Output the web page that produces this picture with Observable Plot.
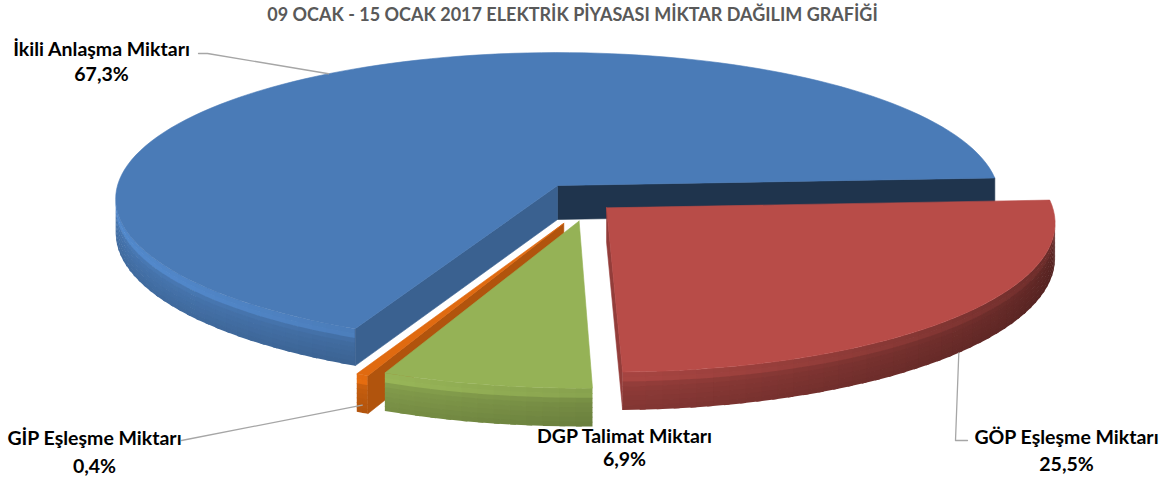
<!DOCTYPE html>
<html><head><meta charset="utf-8">
<script src="https://cdn.jsdelivr.net/npm/d3@7"></script>
<script src="https://cdn.jsdelivr.net/npm/@observablehq/plot@0.6"></script>
<style>body{margin:0;background:#fff} svg{display:block}</style>
</head><body><div id="chart"></div>
<script>
// ---------- data ----------
const title = "09 OCAK - 15 OCAK 2017 ELEKTRİK PİYASASI MİKTAR DAĞILIM GRAFİĞİ";
const categories = ["GÖP Eşleşme Miktarı", "DGP Talimat Miktarı", "GİP Eşleşme Miktarı", "İkili Anlaşma Miktarı"];
const values = [25.5, 6.9, 0.4, 67.3];
const colors = ["#b84c48", "#95b256", "#e06a10", "#4a7bb7"];

// ---------- style / layout ----------
const explode = [[0.11, 0.152], [0.048, 0.24], [0.014, 0.255], [0, 0]];
const startAngle = 3;
const D = 11, CX = 557, CY = 185, KX = 440, KY = 145, TH = 34;
const W = 1169, H = 479;
const labelPos = [ // name centre x, name y, pct y
  {x: 1066, y1: 437, y2: 464},
  {x: 624, y1: 436, y2: 459},
  {x: 94, y1: 438, y2: 466},
  {x: 101, y1: 49, y2: 74}
];
const leaderEnds = [
  {pre: [], post: [[955, 440], [967, 440]], r: 1, h: 1.0},
  null,
  {pre: [[181, 440]], post: [], r: 1, h: 0.8},
  {pre: [[198, 53], [207, 53]], post: [], r: 1, h: 0}
];

// ---------- geometry ----------
const rad = Math.PI / 180;
function proj(X, Z, h) { const s = D / (D - Z); return [CX + KX * X * s, CY + (KY * Z + TH * h) * s]; }
function wpt(sl, a, r, h) { return proj(sl.ox + r * Math.cos(a * rad), sl.oz - r * Math.sin(a * rad), h); }
function shade(c, f) { const r = d3.rgb(c); return d3.rgb(Math.min(255, r.r * f), Math.min(255, r.g * f), Math.min(255, r.b * f)).formatHex(); }

const total = d3.sum(values);
let cur = startAngle;
const slices = categories.map((name, i) => {
  const span = values[i] / total * 360;
  const a1 = cur, a0 = cur - span; cur = a0;
  return {i, name, value: values[i], a0, a1, color: colors[i], ox: explode[i][0], oz: explode[i][1]};
});
const depthOf = s => s.oz - 0.5 * Math.sin((s.a0 + s.a1) / 2 * rad);
const order = slices.slice().sort((a, b) => depthOf(a) - depthOf(b));

const rows = []; let fid = 0;
function area(p) { let s = 0; for (let k = 0; k < p.length; k++) { const q = p[(k + 1) % p.length]; s += p[k][0] * q[1] - q[0] * p[k][1]; } return s / 2; }
function push(pts, color, cull, stroke) {
  if (cull && area(pts) <= 0.01) return;
  const id = fid++;
  const sc = stroke === undefined ? color : stroke;
  pts.concat([pts[0]]).forEach(([x, y]) => rows.push({id, x, y, color, sc}));
}
const shadowRows = []; let sid = 0;
const NB = 8;
const bandH = d3.range(NB + 1).map(k => k / NB);
const profile = h => 1 + 0.16 * Math.exp(-Math.pow((h - 0.14) / 0.12, 2)) - 0.14 * h;

for (const sl of order) {
  const c = sl.color;
  const n = Math.max(2, Math.ceil((sl.a1 - sl.a0) / 2));
  const step = (sl.a1 - sl.a0) / n;
  const angs = d3.range(n + 1).map(k => sl.a0 + step * k);
  const sp = [wpt(sl, 0, 0, 1.25)].concat(angs.map(a => wpt(sl, a, 1.03, 1.25)));
  const id = sid++; sp.concat([sp[0]]).forEach(([x, y]) => shadowRows.push({id, x, y}));
  const ctop = wpt(sl, 0, 0, 0), cbot = wpt(sl, 0, 0, 1);
  const radialF = nDeg => 0.8 - 0.38 * Math.pow(Math.max(0, -Math.sin(nDeg * rad)), 4);
  push([ctop, wpt(sl, sl.a0, 1, 0), wpt(sl, sl.a0, 1, 1), cbot], shade(c, radialF(sl.a0 - 90)), true);
  const segs = [];
  for (let k = 0; k < n; k++) {
    const a = angs[k], b = k < n - 1 ? angs[k + 1] + step * 0.35 : angs[k + 1], m = (angs[k] + angs[k + 1]) / 2;
    const f = 0.74 + 0.26 * Math.cos((m - 200) * rad);
    for (let j = 0; j < NB; j++) {
      const h0 = bandH[j], h1 = Math.min(1, bandH[j + 1] + 0.02);
      const col = shade(c, f * profile((bandH[j] + bandH[j + 1]) / 2));
      segs.push({m, pts: [wpt(sl, a, 1, h0), wpt(sl, b, 1, h0), wpt(sl, b, 1, h1), wpt(sl, a, 1, h1)], col});
    }
  }
  segs.sort((p, q) => Math.sin(q.m * rad) - Math.sin(p.m * rad));
  segs.forEach(s => push(s.pts, s.col, true, "none"));
  push([wpt(sl, sl.a1, 1, 0), ctop, cbot, wpt(sl, sl.a1, 1, 1)], shade(c, radialF(sl.a1 + 90)), true);
  push([ctop].concat(angs.map(a => wpt(sl, a, 1, 0))), c, false);
}

const fmt = v => d3.format(".1f")(v).replace(".", ",") + "%";
const labelRows = [];
const leaderRows = [];
slices.forEach((sl, i) => {
  const lp = labelPos[i];
  labelRows.push({x: lp.x, y: lp.y1, text: sl.name});
  labelRows.push({x: lp.x, y: lp.y2, text: fmt(sl.value)});
  const le = leaderEnds[i];
  if (le) {
    const anchor = wpt(sl, (sl.a0 + sl.a1) / 2, le.r, le.h);
    le.pre.concat([anchor], le.post).forEach(([x, y]) => leaderRows.push({id: i, x, y}));
  }
});

const chart = Plot.plot({
  width: W, height: H, margin: 0,
  x: {domain: [0, W], range: [0, W], axis: null},
  y: {domain: [0, H], range: [0, H], axis: null},
  color: {type: "identity"},
  style: {fontFamily: "Lato, 'Open Sans', sans-serif", background: "#fff"},
  marks: [
    Plot.line(shadowRows, {x: "x", y: "y", z: "id", fill: "#000", fillOpacity: 0.3, stroke: "none", ariaLabel: "shadow"}),
    Plot.line(rows, {x: "x", y: "y", z: "id", fill: "color", stroke: "sc", strokeWidth: 0.6, curve: "linear"}),
    Plot.line(leaderRows, {x: "x", y: "y", z: "id", stroke: "#a6a6a6", strokeWidth: 1.3}),
    Plot.text([title], {x: () => 572, y: () => 15, text: d => d, fontSize: 18, fontWeight: "bold", fill: "#595959", textAnchor: "middle", ariaLabel: "title"}),
    Plot.text(labelRows, {x: "x", y: "y", text: "text", fontSize: 19.5, fontWeight: "bold", fill: "#000", textAnchor: "middle"})
  ]
});
const ns = "http://www.w3.org/2000/svg";
const defs = document.createElementNS(ns, "defs");
defs.innerHTML = '<filter id="blur" x="-20%" y="-20%" width="140%" height="140%"><feGaussianBlur stdDeviation="6"/></filter>';
chart.insertBefore(defs, chart.firstChild);
const sh = chart.querySelector('g[aria-label="shadow"]');
if (sh) sh.setAttribute("filter", "url(#blur)");
const tg = chart.querySelector('g[aria-label="title"]');
if (tg) tg.setAttribute("letter-spacing", "1.1");
document.getElementById("chart").appendChild(chart);
</script>
</body></html>
